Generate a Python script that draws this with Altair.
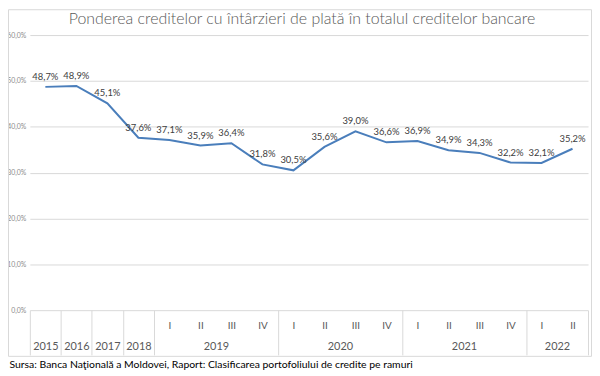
import altair as alt
import pandas as pd

values = [48.7, 48.9, 45.1, 37.6, 37.1, 35.9, 36.4, 31.8, 30.5, 35.6, 39.0, 36.6,
          36.9, 34.9, 34.3, 32.2, 32.1, 35.2]
quarters = ["", "", "", "", "I", "II", "III", "IV", "I", "II", "III", "IV",
            "I", "II", "III", "IV", "I", "II"]
years = ["2015", "2016", "2017", "2018", "2019", "2019", "2019", "2019",
         "2020", "2020", "2020", "2020", "2021", "2021", "2021", "2021", "2022", "2022"]
y_ticks = [0, 10, 20, 30, 40, 50, 60]

title = "Ponderea creditelor cu întârzieri de plată în totalul creditelor bancare"
source = "Sursa: Banca Naţională a Moldovei, Raport: Clasificarea portofoliului de credite pe ramuri"

FONT = "Lato"
GRID = "#d9d9d9"

n = len(values)
df = pd.DataFrame({
    "i": list(range(n)),
    "v": values,
    "lbl": [f"{v:.1f}".replace(".", ",") + "%" for v in values],
})

# group centers and boundaries for the two-level axis
groups = []
for idx, yname in enumerate(years):
    if groups and groups[-1][0] == yname:
        groups[-1][2] = idx
    else:
        groups.append([yname, idx, idx])
year_centers = [(g[1] + g[2]) / 2 for g in groups]
year_names = {f"{c:g}": g[0] for c, g in zip(year_centers, groups)}
bounds = [g[1] - 0.5 for g in groups] + [groups[-1][2] + 0.5]

xscale = alt.Scale(domain=[-0.5, n - 0.5], nice=False, zero=False)
yscale = alt.Scale(domain=[0, 60], nice=False)

q_expr = "[" + ",".join(f"'{q}'" for q in quarters) + "][datum.value]"
yr_expr = "{" + ",".join(f"'{k}':'{v}'" for k, v in year_names.items()) + "}[''+datum.value]"

q_axis = alt.Axis(orient="bottom", values=list(range(n)), labelExpr=q_expr, ticks=False,
                  domain=False, grid=False, labelPadding=10, labelFontSize=10,
                  labelColor="#595959", labelFont=FONT, title=None)
yr_axis = alt.Axis(orient="bottom", values=year_centers, labelExpr=yr_expr, ticks=False,
                   domain=False, grid=False, labelPadding=31, labelFontSize=11,
                   labelColor="#595959", labelFont=FONT, title=None)
sep_axis = alt.Axis(orient="bottom", values=bounds, labels=False, ticks=True, tickSize=45,
                    tickColor=GRID, domain=False, grid=False,
                    title=source, titleX=-21, titleY=55, titleAlign="left",
                    titleBaseline="middle", titleFontSize=10.5, titleFontWeight="normal",
                    titleColor="#000000", titleFont=FONT)

y_axis = alt.Axis(values=y_ticks, labelExpr="replace(format(datum.value, '.1f'), '.', ',') + '%'",
                  ticks=False, domain=False, grid=True, gridColor=GRID, labelFontSize=7,
                  labelColor="#8c8c8c", labelPadding=4, labelFont=FONT, title=None)

base = alt.Chart(df)

line = base.mark_line(color="#4a7ebb", strokeWidth=2).encode(
    x=alt.X("i:Q", scale=xscale, axis=q_axis),
    y=alt.Y("v:Q", scale=yscale, axis=y_axis),
)
labels = base.mark_text(dy=-10, fontSize=9.5, color="#404040", font=FONT).encode(
    x=alt.X("i:Q", scale=xscale, axis=yr_axis),
    y=alt.Y("v:Q", scale=yscale, axis=y_axis),
    text="lbl:N",
)
sep = base.mark_point(opacity=0).encode(
    x=alt.X("i:Q", scale=xscale, axis=sep_axis),
    y=alt.Y("v:Q", scale=yscale, axis=y_axis),
)
frame = alt.Chart(pd.DataFrame({"a": [0]})).mark_rect(
    fillOpacity=0, stroke=GRID, strokeWidth=1
).encode(
    x=alt.value(-21.5), x2=alt.value(565.5), y=alt.value(-25.5), y2=alt.value(323.5)
)

chart = alt.layer(frame, line, labels, sep).resolve_axis(x="independent").properties(
    width=562, height=277,
    padding={"left": 22, "top": 26, "right": 4, "bottom": 60},
    autosize=alt.AutoSizeParams(type="none"),
    title=alt.TitleParams(text=title, fontSize=16, font=FONT, color="#595959",
                          fontWeight=300, anchor="middle", frame="group", dx=-7,
                          offset=-31, baseline="alphabetic"),
).configure_view(stroke=None)

chart.save("out.html", embed_options={"renderer": "svg", "actions": False})
